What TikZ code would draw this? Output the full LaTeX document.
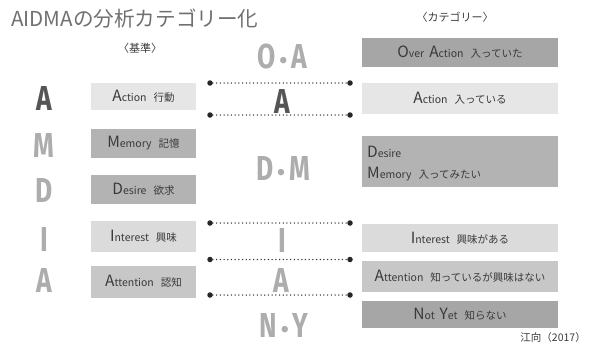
\documentclass[tikz,border=0pt]{standalone}
\usepackage{fontspec}
\setmainfont{Noto Sans CJK JP}
\newfontfamily\bigf{Fira Sans}
\definecolor{darkg}{HTML}{555555}
\definecolor{lightg}{HTML}{ADADAD}
\definecolor{txt}{HTML}{3A3A3A}
\definecolor{ttl}{HTML}{707070}
\definecolor{cA}{HTML}{E6E6E6}
\definecolor{cB}{HTML}{B3B3B3}
\definecolor{cC}{HTML}{DBDBDB}
\definecolor{cD}{HTML}{C7C7C7}
\definecolor{cE}{HTML}{A6A6A6}
\newcommand\ini[2]{{\fontsize{15.5}{16}\selectfont #1}{\fontsize{10.5}{12}\selectfont #2}}
\newcommand\jp[1]{{\fontsize{10.5}{12}\selectfont #1}}
\newcommand\cond[1]{\scalebox{0.8}[1.05]{#1}}
\newcommand\pairlet[2]{\cond{#1}\hspace{4pt}\scalebox{0.7}{•}\hspace{4pt}\cond{#2}}
\tikzset{
  bigl/.style={font=\bigf\bfseries\fontsize{33}{33}\selectfont, text=lightg, inner sep=0},
  lbox/.style={minimum width=105pt, minimum height=29pt, inner sep=0, text=txt},
  rbox/.style={minimum width=196pt, inner sep=0, text=txt},
  dotn/.style={circle, fill=black!85, inner sep=0, minimum size=5.5pt},
  dline/.style={draw=black!80, line width=1.5pt, line cap=round, dash pattern=on 0pt off 3.7pt},
}
\begin{document}
\begin{tikzpicture}[x=1pt,y=-1pt]
\useasboundingbox (0,0) rectangle (598,356);
% title
\node[anchor=west, text=ttl, font=\fontsize{20.6}{22}\selectfont, inner sep=0] (title) at (11,19) {AIDMAの分析カテゴリー化};
\node[text=txt, font=\fontsize{11}{12}\selectfont, inner sep=0] (hl) at (140,48) {〈基準〉};
\node[text=txt, font=\fontsize{11}{12}\selectfont, inner sep=0] (hr) at (455,17) {〈カテゴリー〉};
% left letters
\node[bigl, text=darkg] (LA1) at (44,98.5) {\cond{A}};
\node[bigl] (LM) at (44,145) {\cond{M}};
\node[bigl] (LD) at (44,190.5) {\cond{D}};
\node[bigl] (LI) at (44,239) {\cond{I}};
\node[bigl] (LA2) at (44,280) {\cond{A}};
% left boxes
\node[lbox, fill=cA, minimum height=27pt] (bA) at (143.5,96) {\ini{A}{ction}\hspace{7pt}\jp{行動}};
\node[lbox, fill=cB] (bM) at (143.5,143.5) {\ini{M}{emory}\hspace{7pt}\jp{記憶}};
\node[lbox, fill=cB] (bD) at (143.5,189.5) {\ini{D}{esire}\hspace{7pt}\jp{欲求}};
\node[lbox, fill=cC, minimum height=31pt] (bI) at (143.5,236.5) {\ini{I}{nterest}\hspace{7pt}\jp{興味}};
\node[lbox, fill=cD, minimum height=32pt] (bAt) at (143.5,281.5) {\ini{A}{ttention}\hspace{7pt}\jp{認知}};
% middle letters
\node[bigl] (mOA) at (282,56.5) {\pairlet{O}{A}};
\node[bigl, text=darkg] (mA1) at (282,101) {\cond{A}};
\node[bigl] (mDM) at (283,168.5) {\pairlet{D}{M}};
\node[bigl] (mI) at (282,240.5) {\cond{I}};
\node[bigl] (mA2) at (281,280) {\cond{A}};
\node[bigl] (mNY) at (284,325) {\pairlet{N}{Y}};
% dotted lines
\foreach \i/\y in {1/83,2/115,3/223,4/259.5,5/295}{
  \node[dotn] (l\i) at (210,\y) {};
  \node[dotn] (r\i) at (350,\y) {};
  \draw[dline] (l\i) -- (r\i);
}
% right boxes
\node[rbox, fill=cE, minimum height=29pt] (rOA) at (460,52.5) {\ini{O}{ver}\hspace{5pt}\ini{A}{ction}\hspace{7pt}\jp{入っていた}};
\node[rbox, fill=cA, minimum height=31pt] (rA) at (460,98.5) {\ini{A}{ction}\hspace{7pt}\jp{入っている}};
\node[rbox, fill=cB, minimum height=51pt] (rDM) at (460,161.5) {};
\node[anchor=west, text=txt, inner sep=0] (rD) at (367,152) {\ini{D}{esire}};
\node[anchor=west, text=txt, inner sep=0] (rM) at (367,174) {\ini{M}{emory}\hspace{7pt}\jp{入ってみたい}};
\node[rbox, fill=cC, minimum height=28pt] (rI) at (460,238) {\ini{I}{nterest}\hspace{7pt}\jp{興味がある}};
\node[rbox, fill=cD, minimum height=31pt] (rAt) at (460,276.5) {\ini{A}{ttention}\hspace{7pt}\jp{知っているが興味はない}};
\node[rbox, fill=cE, minimum height=27pt] (rNY) at (460,314.5) {\ini{N}{ot}\hspace{5pt}\ini{Y}{et}\hspace{7pt}\jp{知らない}};
% source
\node[anchor=east, text=txt, font=\fontsize{10.5}{12}\selectfont, inner sep=0] (src) at (586,338) {江向（2017）};
\end{tikzpicture}
\end{document}
